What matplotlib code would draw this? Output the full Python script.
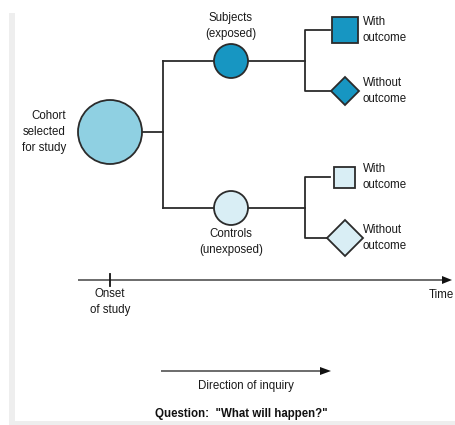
import matplotlib.pyplot as plt
from matplotlib.patches import Circle, Rectangle, Polygon, FancyArrow

plt.rcParams['font.family'] = ['Liberation Sans', 'DejaVu Sans']

# labels of the diagram
cohort_label = 'Cohort\nselected\nfor study'
group_labels = ['Subjects\n(exposed)', 'Controls\n(unexposed)']
outcome_labels = ['With\noutcome', 'Without\noutcome']
axis_labels = ['Onset\nof study', 'Time']
inquiry_label = 'Direction of inquiry'
question_label = 'Question:  "What will happen?"'

# fill colours of the groups
group_colors = ['#1796c2', '#d9eef5']
cohort_color = '#8fd0e2'
line_col = '#2b2b2b'
txt_col = '#1a1a1a'

fig = plt.figure(figsize=(4.56, 4.25), dpi=100)
ax = fig.add_axes([0, 0, 1, 1])
ax.set_xlim(0, 456)
ax.set_ylim(425, 0)
ax.axis('off')

# grey frame on left and bottom
ax.add_patch(Rectangle((9, 13), 6, 412, color='#eeeeee', lw=0))
ax.add_patch(Rectangle((9, 421), 447, 4, color='#eeeeee', lw=0))

lw = 1.3
fs = 8.3
ls = 1.4

# cohort
ax.add_patch(Circle((110, 132), 32, fc=cohort_color, ec=line_col, lw=lw, zorder=3))
ax.text(66, 132, cohort_label, ha='right', va='center', fontsize=fs, color=txt_col,
        linespacing=ls)
ax.plot([142, 163], [132, 132], color=line_col, lw=lw)
ax.plot([163, 163], [61, 208], color=line_col, lw=lw)

group_y = [61, 208]
square_size = [26, 21]
diamond_half = [14, 18]
for i, gy in enumerate(group_y):
    ax.plot([163, 305], [gy, gy], color=line_col, lw=lw, zorder=1)
    ax.add_patch(Circle((231, gy), 17, fc=group_colors[i], ec=line_col, lw=lw, zorder=3))
    if i == 0:
        ax.text(231, 26, group_labels[i], ha='center', va='center', fontsize=fs,
                color=txt_col, linespacing=ls)
    else:
        ax.text(231, 242, group_labels[i], ha='center', va='center', fontsize=fs,
                color=txt_col, linespacing=ls)
    top = gy - 31
    bot = gy + 30
    ax.plot([330, 305, 305, 330], [top, top, bot, bot], color=line_col, lw=lw, zorder=1)
    s = square_size[i]
    ax.add_patch(Rectangle((345 - s / 2, top - s / 2), s, s, fc=group_colors[i],
                           ec=line_col, lw=lw, zorder=3))
    h = diamond_half[i]
    ax.add_patch(Polygon([(345 - h, bot), (345, bot - h), (345 + h, bot), (345, bot + h)],
                         closed=True, fc=group_colors[i], ec=line_col, lw=lw, zorder=3))
    ax.text(363, top, outcome_labels[0], ha='left', va='center', fontsize=fs,
            color=txt_col, linespacing=ls)
    ax.text(363, bot, outcome_labels[1], ha='left', va='center', fontsize=fs,
            color=txt_col, linespacing=ls)

# time axis
ax.add_patch(FancyArrow(78, 280, 374, 0, width=1.2, head_width=8, head_length=10,
                        length_includes_head=True, color='#111111', lw=0))
ax.plot([110, 110], [274, 286], color='#111111', lw=lw)
ax.text(110, 302, axis_labels[0], ha='center', va='center', fontsize=fs,
        color=txt_col, linespacing=ls)
ax.text(454, 295, axis_labels[1], ha='right', va='center', fontsize=fs, color=txt_col)

# direction of inquiry
ax.add_patch(FancyArrow(161, 371, 170, 0, width=1.2, head_width=8, head_length=11,
                        length_includes_head=True, color='#111111', lw=0))
ax.text(246, 386, inquiry_label, ha='center', va='center', fontsize=fs, color=txt_col)
ax.text(241, 414, question_label, ha='center', va='center', fontsize=fs,
        fontweight='bold', color='#111111')

fig.savefig('out.png', dpi=100)
